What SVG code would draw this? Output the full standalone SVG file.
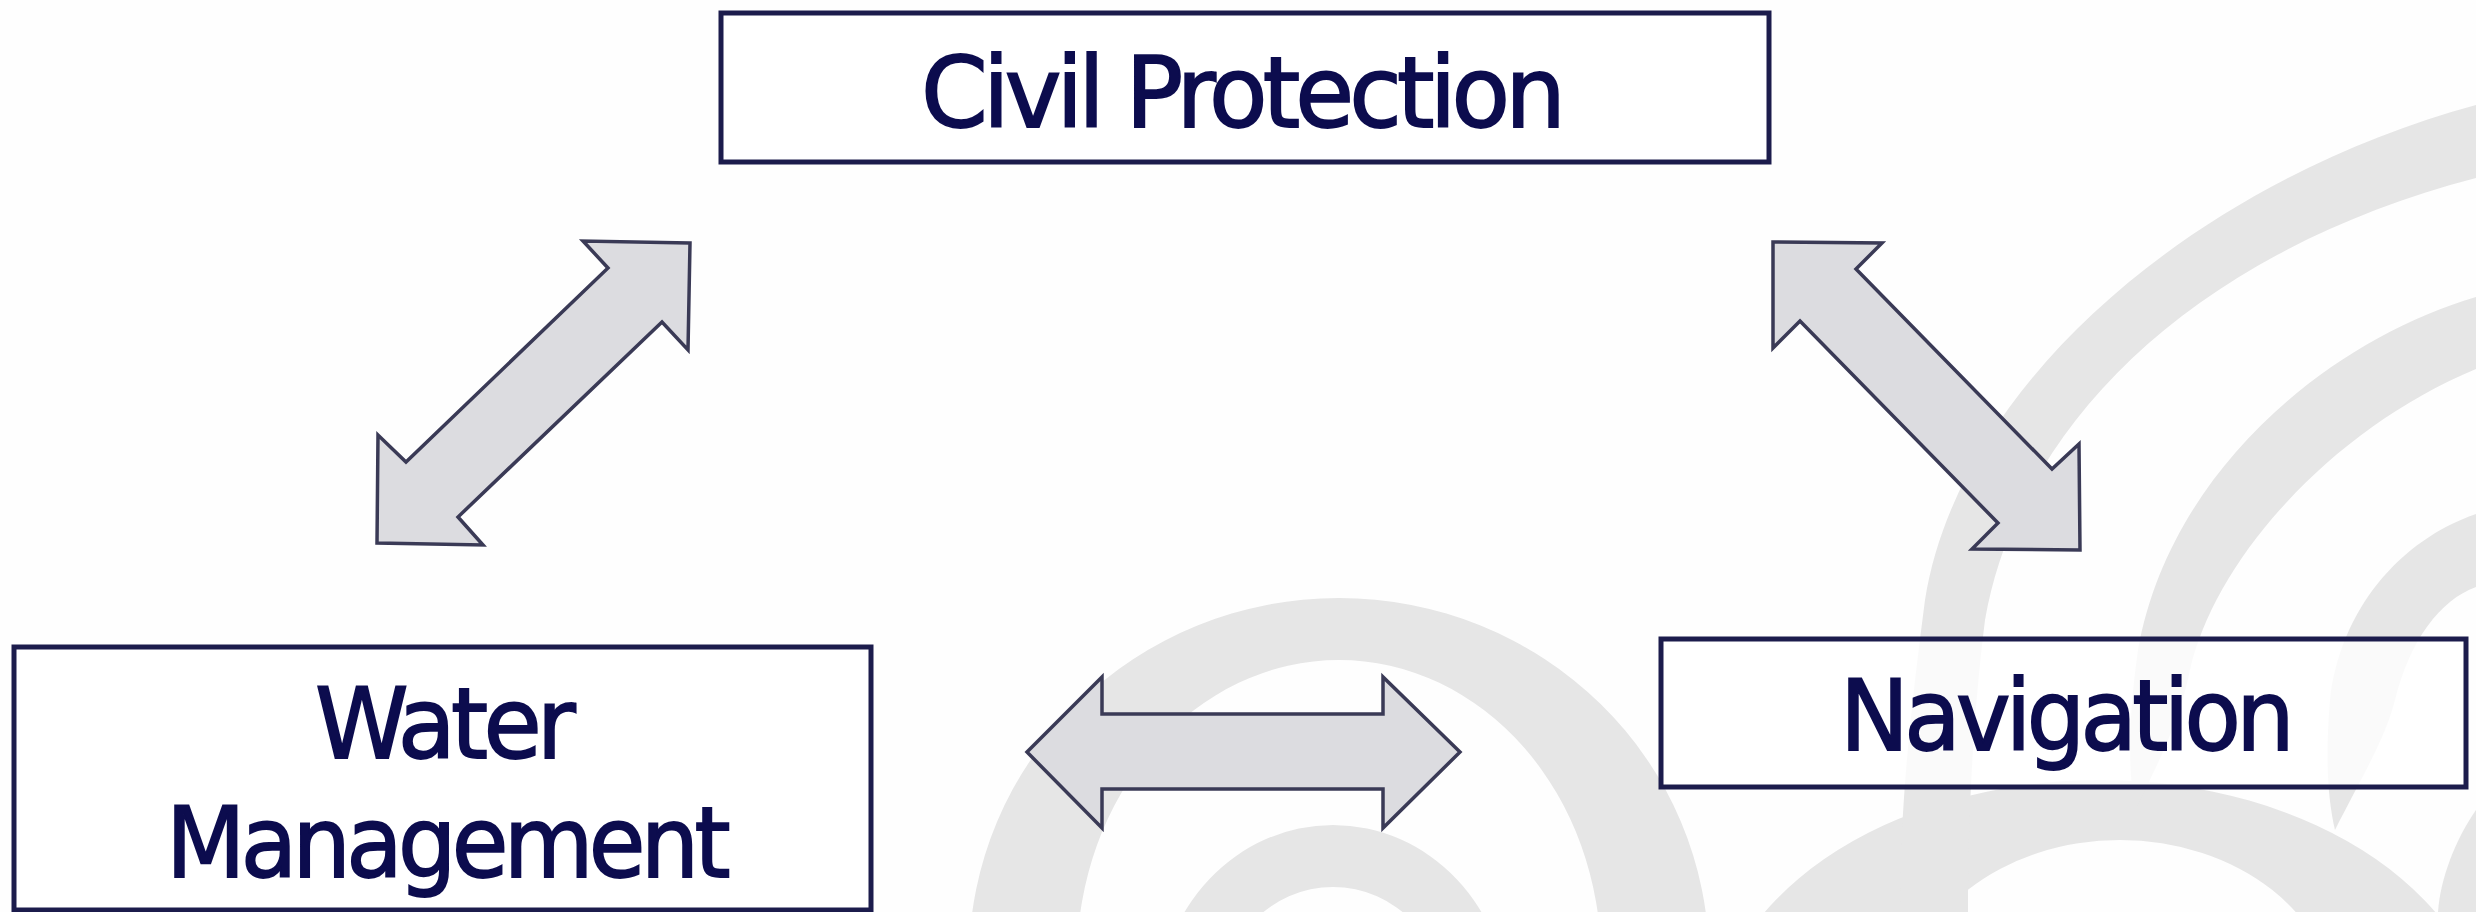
<svg xmlns="http://www.w3.org/2000/svg" width="2476" height="912" viewBox="0 0 2476 912">
<style>
.wm{fill:#e6e6e6;fill-rule:evenodd}
.box{fill:#ffffff;fill-opacity:0.8;stroke:#1c1c4c;stroke-width:5}
.lbl{font-family:"DejaVu Sans",Verdana,sans-serif;font-size:98px;letter-spacing:-5px;fill:#0c0c4e;stroke:#0c0c4e;stroke-width:1.8;text-anchor:middle}
.arr{fill:#dcdce0;stroke:#3a3a56;stroke-width:3.5;stroke-linejoin:miter}
</style>
<rect x="0" y="0" width="2476" height="912" fill="#fefefe"/>
<g id="watermark">
<path class="wm" d="M969,960 A370 362 0 1 1 1709,960 A370 362 0 1 1 969,960 Z M1077,960 A262 300 0 1 1 1601,960 A262 300 0 1 1 1077,960 Z"/>
<path class="wm" d="M1158,1010 A175 185 0 1 1 1508,1010 A175 185 0 1 1 1158,1010 Z M1218,1010 A115 123 0 1 1 1448,1010 A115 123 0 1 1 1218,1010 Z"/>
<path class="wm" d="M1710,1050 A390 270 0 1 1 2490,1050 A390 270 0 1 1 1710,1050 Z M1905,1010 A215 170 0 1 1 2335,1010 A215 170 0 1 1 1905,1010 Z"/>
<path class="wm" d="M2476,105 C2200,180 1960,380 1925,600 C1912,700 1900,800 1900,912 L1968,912 C1968,800 1975,700 1985,620 C2020,420 2200,250 2476,178 Z"/>
<path class="wm" d="M2476,297 C2330,340 2170,470 2138,650 C2128,720 2128,770 2135,810 C2160,760 2180,720 2190,670 C2215,560 2330,430 2476,369 Z"/>
<path class="wm" d="M2476,514 C2400,540 2340,610 2330,700 C2325,760 2328,800 2335,830 C2360,780 2385,740 2395,700 C2410,640 2440,600 2476,587 Z"/>
<path class="wm" d="M2476,810 C2455,840 2440,880 2438,912 L2476,912 Z"/>
</g>
<g id="connectors">
<polygon class="arr" points="690,243 583,241 608,268 406,462 378,435 377,543 483,545 458,517 662,322 688,350"/>
<polygon class="arr" points="1773,242 1882,243 1856,269 2052,469 2079,444 2080,550 1972,549 1998,523 1800,321 1773,348"/>
<polygon class="arr" points="1027,752 1102,677 1102,714 1383,714 1383,677 1460,752 1383,828 1383,789 1102,789 1102,828"/>
</g>
<g id="civil-protection">
<rect class="box" x="721" y="13" width="1048" height="149"/>
<text class="lbl" x="1241" y="127" textLength="640" lengthAdjust="spacingAndGlyphs">Civil Protection</text>
</g>
<g id="water-management">
<rect class="box" x="14" y="647" width="857" height="263"/>
<text class="lbl" x="443" y="758" textLength="256" lengthAdjust="spacingAndGlyphs">Water</text>
<text class="lbl" x="446" y="877" textLength="560" lengthAdjust="spacingAndGlyphs">Management</text>
</g>
<g id="navigation">
<rect class="box" x="1661" y="639" width="805" height="148"/>
<text class="lbl" x="2065" y="750" textLength="450" lengthAdjust="spacingAndGlyphs">Navigation</text>
</g>
</svg>
